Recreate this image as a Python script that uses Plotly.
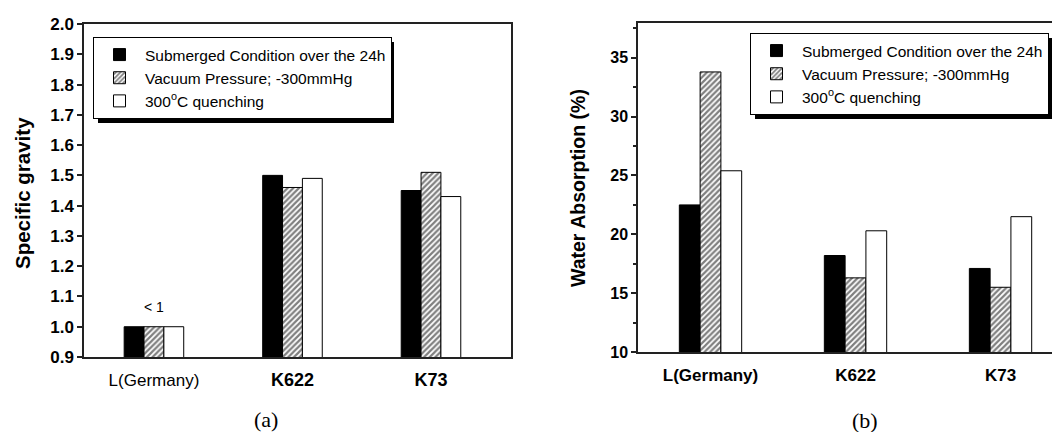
import plotly.graph_objects as go

# ---------------- data ----------------
categories = ["L(Germany)", "K622", "K73"]
series_names = ["Submerged Condition over the 24h",
                "Vacuum Pressure; -300mmHg",
                "300<sup>o</sup>C quenching"]

sg_submerged = [1.00, 1.50, 1.45]
sg_vacuum = [1.00, 1.46, 1.51]
sg_quench = [1.00, 1.49, 1.43]

wa_submerged = [22.5, 18.2, 17.1]
wa_vacuum = [33.8, 16.3, 15.5]
wa_quench = [25.4, 20.3, 21.5]

sg_tickvals = [0.9, 1.0, 1.1, 1.2, 1.3, 1.4, 1.5, 1.6, 1.7, 1.8, 1.9, 2.0]
sg_ticktext = ["0.9", "1.0", "1.1", "1.2", "1.3", "1.4", "1.5", "1.6", "1.7", "1.8", "1.9", "2.0"]
wa_tickvals = [10, 15, 20, 25, 30, 35]

left_cat_labels = ["L(Germany)",
                   "<span style='font-size:18px'><b>K622</b></span>",
                   "<span style='font-size:18px'><b>K73</b></span>"]
right_cat_labels = ["<b>L(Germany)</b>", "<b>K622</b>", "<b>K73</b>"]

# ---------------- layout helpers ----------------
W, H = 1052, 432
def px_x(p):
    return p / W
def px_y(p):
    return 1 - p / H

FONT = "Arial, Liberation Sans, sans-serif"
AXC = "#222222"

fills = ["black", "white", "white"]
patterns = [None, dict(shape="/", fgcolor="black", bgcolor="white", size=4, solidity=0.55), None]

fig = go.Figure()

left_vals = [sg_submerged, sg_vacuum, sg_quench]
right_vals = [wa_submerged, wa_vacuum, wa_quench]

for i in range(3):
    m = dict(color=fills[i], line=dict(color="black", width=1))
    if patterns[i]:
        m["pattern"] = patterns[i]
    fig.add_trace(go.Bar(x=categories, y=left_vals[i], name=series_names[i],
                         marker=m, xaxis="x", yaxis="y", legend="legend"))
for i in range(3):
    m = dict(color=fills[i], line=dict(color="black", width=1))
    if patterns[i]:
        m["pattern"] = patterns[i]
    fig.add_trace(go.Bar(x=categories, y=right_vals[i], name=series_names[i],
                         marker=m, xaxis="x2", yaxis="y2", legend="legend2"))

legend_common = dict(bgcolor="white", bordercolor="black", borderwidth=1,
                     font=dict(family=FONT, size=15.5, color="black"),
                     xanchor="left", yanchor="top", tracegroupgap=0, itemwidth=41)

shadow = 5
fig.update_layout(
    width=W, height=H,
    margin=dict(l=0, r=0, t=0, b=0, autoexpand=False),
    paper_bgcolor="white", plot_bgcolor="white",
    barmode="group", bargap=0.57, bargroupgap=0,
    font=dict(family=FONT, color="black"),
    legend=dict(x=px_x(93), y=px_y(37), **legend_common),
    legend2=dict(x=px_x(750), y=px_y(33), **legend_common),
    xaxis=dict(domain=[px_x(84), px_x(510.5)], range=[-0.505, 2.574],
               type="category", tickvals=categories, ticktext=left_cat_labels,
               tickfont=dict(family=FONT, size=17, color="black"),
               showline=True, linecolor=AXC, linewidth=1.5, mirror=True,
               ticks="", showgrid=False, ticklabelstandoff=7, anchor="y",
               automargin=False),
    yaxis=dict(domain=[px_y(357), px_y(24)], range=[0.9, 2.0],
               tickvals=sg_tickvals, ticktext=sg_ticktext,
               tickfont=dict(family=FONT, size=17, color="black", weight="bold"),
               showline=True, linecolor=AXC, linewidth=1.5, mirror=True,
               ticks="outside", ticklen=5, tickcolor=AXC, tickwidth=1.5,
               showgrid=False, zeroline=False, anchor="x", automargin=False),
    xaxis2=dict(domain=[px_x(638), 1.0], range=[-0.5, 2.355],
                type="category", tickvals=categories, ticktext=right_cat_labels,
                tickfont=dict(family=FONT, size=17, color="black"),
                showline=True, linecolor=AXC, linewidth=1.5, mirror=True,
                ticks="", showgrid=False, ticklabelstandoff=7, anchor="y2",
                automargin=False),
    yaxis2=dict(domain=[px_y(352), px_y(22.5)], range=[10, 38],
                tickvals=wa_tickvals,
                tickfont=dict(family=FONT, size=16, color="black", weight="bold"),
                showline=True, linecolor=AXC, linewidth=1.5, mirror=False,
                ticks="outside", ticklen=5, tickcolor=AXC, tickwidth=1.5,
                minor=dict(ticks="outside", ticklen=3, dtick=2.5, tick0=10,
                           tickcolor=AXC, tickwidth=1.5),
                showgrid=False, zeroline=False, anchor="x2", automargin=False),
    shapes=[
        dict(type="rect", xref="paper", yref="paper",
             x0=px_x(93 + shadow), x1=px_x(389 + shadow),
             y0=px_y(118 + shadow), y1=px_y(37 + shadow),
             fillcolor="black", line=dict(width=0), layer="above"),
        dict(type="rect", xref="paper", yref="paper",
             x0=px_x(750 + shadow), x1=px_x(1047 + shadow),
             y0=px_y(114 + shadow), y1=px_y(33 + shadow),
             fillcolor="black", line=dict(width=0), layer="above"),
    ],
    annotations=[
        dict(text="<b>Specific gravity</b>", textangle=-90, xref="paper", yref="paper",
             x=px_x(22), y=px_y(193), xanchor="center", yanchor="middle",
             showarrow=False, font=dict(family=FONT, size=20.5, color="black")),
        dict(text="<b>Water Absorption (%)</b>", textangle=-90, xref="paper", yref="paper",
             x=px_x(578), y=px_y(188), xanchor="center", yanchor="middle",
             showarrow=False, font=dict(family=FONT, size=19.5, color="black")),
        dict(text="&lt; 1", xref="x", yref="paper", x=categories[0],
             y=px_y(307), xanchor="center", yanchor="middle", showarrow=False,
             font=dict(family=FONT, size=14, color="black")),
        dict(text="(a)", xref="paper", yref="paper", x=px_x(266), y=px_y(419),
             xanchor="center", yanchor="middle", showarrow=False,
             font=dict(family="Liberation Serif, serif", size=22, color="black")),
        dict(text="(b)", xref="paper", yref="paper", x=px_x(865), y=px_y(420),
             xanchor="center", yanchor="middle", showarrow=False,
             font=dict(family="Liberation Serif, serif", size=22, color="black")),
    ],
)

fig.write_html("out.html",
               config={"displayModeBar": False},
               post_script="document.body.style.margin='0';document.body.style.overflow='hidden';")
